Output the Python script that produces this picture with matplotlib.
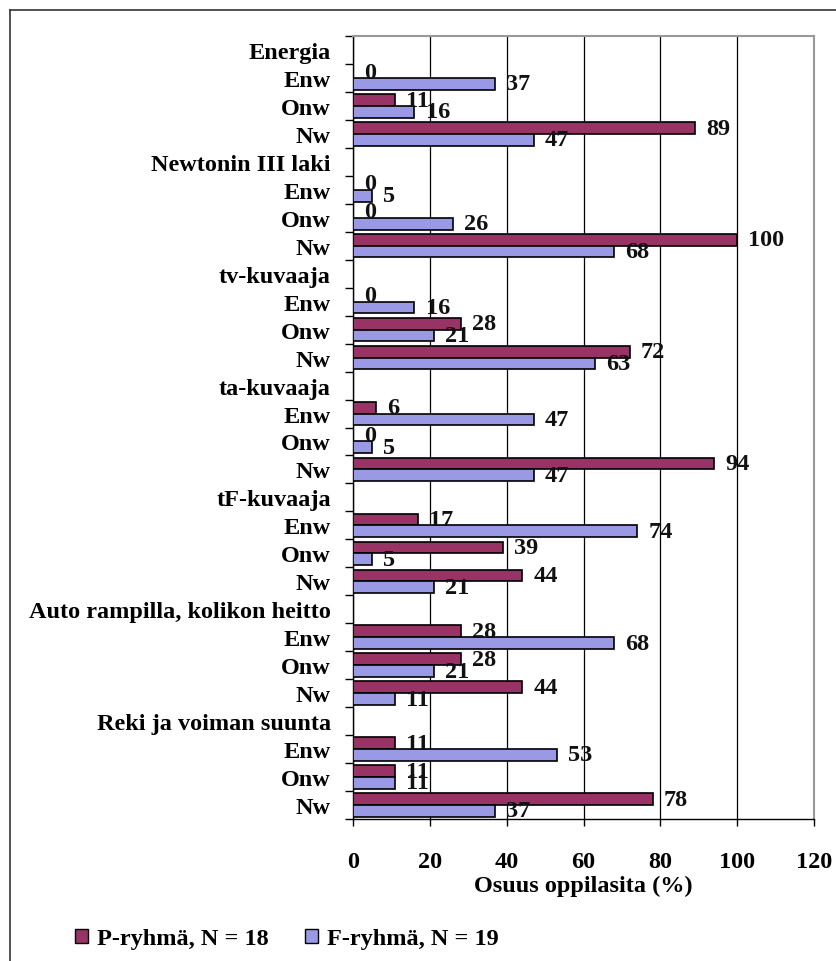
import matplotlib.pyplot as plt
import matplotlib.patches as patches
from matplotlib.lines import Line2D
import numpy as np

# Tasks (headers) and answer types under each task
tasks = ["Energia", "Newtonin III laki", "tv-kuvaaja", "ta-kuvaaja",
         "tF-kuvaaja", "Auto rampilla, kolikon heitto", "Reki ja voiman suunta"]
answer_types = ["Enw", "Onw", "Nw"]

# Share of students (%) per task, answer types in order Enw, Onw, Nw
p_group = [[0, 11, 89], [0, 0, 100], [0, 28, 72], [6, 0, 94],
           [17, 39, 44], [28, 28, 44], [11, 11, 78]]
f_group = [[37, 16, 47], [5, 26, 68], [16, 21, 63], [47, 5, 47],
           [74, 5, 21], [68, 21, 11], [53, 11, 37]]

p_label = "P-ryhmä, N = 18"
f_label = "F-ryhmä, N = 19"
x_ticks = [0, 20, 40, 60, 80, 100, 120]

p_color = "#993366"
f_color = "#9999E6"

plt.rcParams['font.family'] = ['Liberation Serif', 'DejaVu Serif']
plt.rcParams['font.weight'] = 'bold'
fs = 17.5

fig = plt.figure(figsize=(8.36, 9.62), dpi=100)
ax = fig.add_axes([353 / 836, 142 / 962, 461 / 836, 783 / 962])

# build the row list: header row followed by its three answer rows
labels = []
rows_p = []
rows_f = []
for task, pv, fv in zip(tasks, p_group, f_group):
    labels.append(task)
    rows_p.append(None)
    rows_f.append(None)
    for a, p, f in zip(answer_types, pv, fv):
        labels.append(a)
        rows_p.append(p)
        rows_f.append(f)

ypos = np.arange(len(labels))
h = 0.42
for y, p, f in zip(ypos, rows_p, rows_f):
    if p is None:
        continue
    ax.barh(y - h / 2, p, height=h, color=p_color, edgecolor='black', linewidth=1.2, zorder=3)
    ax.barh(y + h / 2, f, height=h, color=f_color, edgecolor='black', linewidth=1.2, zorder=3)
    ax.annotate(str(p), (p, y - h / 2), xytext=(8, 0), textcoords='offset points',
                va='center', ha='left', fontsize=fs, fontweight='bold', color='#111111', zorder=4)
    ax.annotate(str(f), (f, y + h / 2), xytext=(8, 0), textcoords='offset points',
                va='center', ha='left', fontsize=fs, fontweight='bold', color='#111111', zorder=4)

ax.set_xlim(0, 120)
ax.set_ylim(len(labels) - 0.5, -0.5)
ax.set_xticks(x_ticks)
ax.set_xticklabels([str(t) for t in x_ticks], fontsize=fs, fontweight='bold')
ax.set_yticks(ypos)
ax.set_yticklabels(labels, fontsize=fs, fontweight='bold')
ax.set_yticks(np.arange(len(labels) + 1) - 0.5, minor=True)
ax.tick_params(axis='y', which='major', length=0, pad=16)
ax.tick_params(axis='y', which='minor', length=6, width=1, direction='out')
ax.tick_params(axis='x', which='major', length=5, width=1, direction='out', pad=18)
ax.set_xlabel("Osuus oppilasita (%)", fontsize=fs, fontweight='bold', labelpad=2)

# vertical gridlines and plot area border
ax.grid(axis='x', color='black', linewidth=0.9, zorder=0)
ax.set_axisbelow(True)
for side in ['top', 'right']:
    ax.spines[side].set_color('#999999')
    ax.spines[side].set_linewidth(1.5)
for side in ['left', 'bottom']:
    ax.spines[side].set_color('black')
    ax.spines[side].set_linewidth(1.0)

# legend below the axis title
handles = [patches.Patch(facecolor=p_color, edgecolor='black', label=p_label),
           patches.Patch(facecolor=f_color, edgecolor='black', label=f_label)]
fig.legend(handles=handles, loc='center left', bbox_to_anchor=(75 / 836, 1 - 940 / 962),
           ncol=2, frameon=False, fontsize=fs, handlelength=0.55, handleheight=0.55,
           handletextpad=0.35, columnspacing=1.5, borderpad=0, borderaxespad=0)

# outer frame lines
fig.add_artist(Line2D([10 / 836, 10 / 836], [0, 1 - 11 / 962], color='#333333', linewidth=1.2,
                      transform=fig.transFigure))
fig.add_artist(Line2D([10 / 836, 1], [1 - 11 / 962, 1 - 11 / 962], color='#333333', linewidth=1.2,
                      transform=fig.transFigure))

plt.savefig("out.png", dpi=100)
